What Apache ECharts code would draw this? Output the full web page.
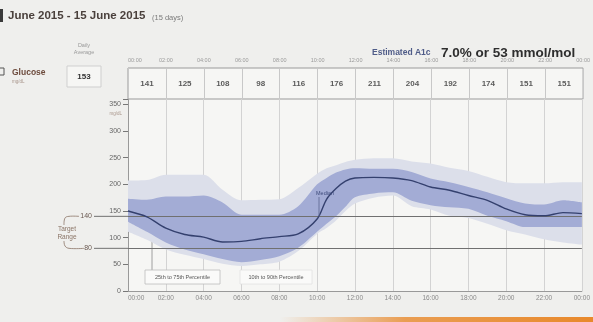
<!DOCTYPE html>
<html>
<head>
<meta charset="utf-8">
<script src="https://cdn.jsdelivr.net/npm/echarts@6/dist/echarts.min.js"></script>
<style>
html,body{margin:0;padding:0;background:#efefed;}
#c{width:593px;height:322px;}
</style>
</head>
<body>
<div id="c"></div>
<script>
// ---- data ----
const hours  = [0,1,2,3,4,5,6,7,8,9,10,10.5,11,11.5,12,13,14,15,16,17,18,19,20,21,22,23,24];
const p90    = [207,208,218,218,218,190,170,171,172,193,220,230,236,242,246,249,249,243,239,231,225,214,204,202,202,204,204];
const p75    = [173,171,177,177,179,166,143,143,143,159,200,212,222,228,230,229,229,223,211,204,195,185,174,164,162,170,166];
const median = [150,139,118,106,101,92,93,98,102,107,135,172,192,206,212,213,212,207,195,189,179,170,154,143,141,147,145];
const p25    = [130,111,91,78,69,60,54,58,65,81,111,126,140,158,176,183,185,169,161,157,154,141,131,120,120,120,120];
const p10    = [111,96,78,68,60,51,47,50,55,75,107,118,132,150,164,175,179,159,153,141,137,126,114,106,97,91,87];
const binCenters = [1,3,5,7,9,11,13,15,17,19,21,23];
const binAverages = [141,125,108,98,116,176,211,204,192,174,151,151];
const dailyAverage = 153;
const targetRange = [80,140];
const yTicks = [0,50,100,150,200,250,300,350];

const fmtHour = v => (v % 24 < 10 ? '0' : '') + (v % 24) + ':00';
// value first, hour second (so the library stacks the glucose value dimension)
const vh = arr => hours.map((h,i)=>[arr[i],h]);
const diffVH = (a,b) => hours.map((h,i)=>[a[i]-b[i],h]);

const chart = echarts.init(document.getElementById('c'), null, {renderer:'canvas'});
const FONT = 'Liberation Sans, Arial, sans-serif';
const bandBase = {type:'line',smooth:0.3,symbol:'none',lineStyle:{opacity:0,width:0},silent:true,encode:{x:1,y:0}};

const option = {
  backgroundColor:'#efefed',
  animation:false,
  grid:[
    {left:128,right:8,top:99,bottom:31,show:true,backgroundColor:'#f6f6f4',borderWidth:0},
    {left:128,right:8,top:68,height:31,show:true,backgroundColor:'#f6f6f4',borderColor:'#9a9a9a',borderWidth:1}
  ],
  xAxis:[
    {type:'value',gridIndex:0,min:0,max:24,interval:2,
     axisLine:{show:true,lineStyle:{color:'#999',width:1}},
     axisTick:{show:false},
     axisLabel:{fontSize:6.5,color:'#8a8a8a',margin:4,fontFamily:FONT,formatter:fmtHour,alignMinLabel:'left'},
     splitLine:{show:true,lineStyle:{color:'#d3d3d3',width:1}}},
    {type:'value',gridIndex:1,position:'top',min:0,max:24,interval:2,
     axisLine:{show:false},axisTick:{show:false},
     axisLabel:{fontSize:5.5,color:'#9a9a9a',margin:5,fontFamily:FONT,formatter:fmtHour,alignMinLabel:'left'},
     splitLine:{show:true,lineStyle:{color:'#c8c8c8',width:1}}}
  ],
  yAxis:[
    {type:'value',gridIndex:0,min:0,max:360,interval:50,
     axisLine:{show:true,lineStyle:{color:'#999',width:1}},
     axisTick:{show:true,inside:false,length:5,lineStyle:{color:'#777'}},
     axisLabel:{fontSize:7,color:'#666',margin:7,fontFamily:FONT,
       formatter:v=>yTicks.indexOf(v)>=0?String(v):''},
     splitLine:{show:false}},
    {type:'value',gridIndex:1,min:0,max:1,show:false}
  ],
  series:[
    Object.assign({},bandBase,{name:'p10base',data:vh(p10),stack:'outer'}),
    Object.assign({},bandBase,{name:'10th to 90th Percentile',data:diffVH(p90,p10),stack:'outer',
      areaStyle:{color:'#dcdfea',opacity:1}}),
    Object.assign({},bandBase,{name:'p25base',data:vh(p25),stack:'inner'}),
    Object.assign({},bandBase,{name:'25th to 75th Percentile',data:diffVH(p75,p25),stack:'inner',
      areaStyle:{color:'#a3acd5',opacity:1}}),
    {type:'line',name:'Median',data:hours.map((h,i)=>[h,median[i]]),smooth:0.3,symbol:'none',
     lineStyle:{color:'#34406e',width:1.4},z:5,
     markLine:{symbol:'none',silent:true,label:{show:false},
       lineStyle:{color:'#707070',width:1,type:'solid'},
       data:targetRange.map(v=>({yAxis:v}))}},
    {type:'scatter',xAxisIndex:1,yAxisIndex:1,symbolSize:1,itemStyle:{color:'transparent'},
     data:binCenters.map((c,i)=>[c,0.5,binAverages[i]]),
     label:{show:true,position:'inside',formatter:p=>String(p.value[2]),
       fontSize:8,fontWeight:'bold',color:'#333',fontFamily:FONT}}
  ]
};
chart.setOption(option);

const y140 = chart.convertToPixel({gridIndex:0},[0,targetRange[1]])[1];
const y80  = chart.convertToPixel({gridIndex:0},[0,targetRange[0]])[1];
const xMed = chart.convertToPixel({gridIndex:0},[10.1,0])[0];
const yMed = chart.convertToPixel({gridIndex:0},[10.1,140])[1];

chart.setOption({graphic:[
  {type:'rect',shape:{x:0,y:9,width:3,height:13},style:{fill:'#3a3a3a'}},
  {type:'text',left:8,top:10,style:{text:'June 2015 - 15 June 2015',font:'bold 11.5px '+FONT,fill:'#4a403c'}},
  {type:'text',left:152,top:14,style:{text:'(15 days)',font:'7.5px '+FONT,fill:'#7a7a7a'}},
  {type:'rect',shape:{x:-2,y:68,width:6,height:7},style:{fill:'none',stroke:'#555',lineWidth:1}},
  {type:'text',left:12,top:68,style:{text:'Glucose',font:'bold 8.5px '+FONT,fill:'#6d4b3d'}},
  {type:'text',left:12,top:79,style:{text:'mg/dL',font:'4.5px '+FONT,fill:'#a8958b'}},
  {type:'text',x:84,y:42,style:{text:'Daily\nAverage',font:'5.5px '+FONT,fill:'#999',align:'center',lineHeight:7}},
  {type:'rect',shape:{x:67,y:66,width:34,height:21},style:{fill:'#f6f6f4',stroke:'#cfcfcf',lineWidth:1}},
  {type:'text',x:84,y:76.5,style:{text:String(dailyAverage),font:'bold 8px '+FONT,fill:'#333',align:'center',verticalAlign:'middle'}},
  {type:'text',x:372,y:57,style:{text:'Estimated A1c',font:'bold 8.5px '+FONT,fill:'#4f5c88',verticalAlign:'bottom'}},
  {type:'text',x:441,y:60,style:{text:'7.0% or 53 mmol/mol',font:'bold 13.5px '+FONT,fill:'#2e2e2e',verticalAlign:'bottom'}},
  {type:'text',x:122,y:114,style:{text:'mg/dL',font:'4.5px '+FONT,fill:'#a8958b',align:'right',verticalAlign:'middle'}},
  {type:'line',shape:{x1:94,y1:y140,x2:128,y2:y140},style:{stroke:'#707070',lineWidth:1}},
  {type:'line',shape:{x1:94,y1:y80,x2:128,y2:y80},style:{stroke:'#707070',lineWidth:1}},
  {type:'text',x:92,y:y140,style:{text:String(targetRange[1]),font:'7px '+FONT,fill:'#6b5a52',align:'right',verticalAlign:'middle'}},
  {type:'text',x:92,y:y80,style:{text:String(targetRange[0]),font:'7px '+FONT,fill:'#6b5a52',align:'right',verticalAlign:'middle'}},
  {type:'text',x:67,y:233,style:{text:'Target\nRange',font:'6.5px '+FONT,fill:'#8a7466',align:'center',verticalAlign:'middle',lineHeight:8}},
  {type:'polyline',shape:{points:[[64,225],[65,218],[69,y140],[79,y140]],smooth:0.4},style:{stroke:'#8a7466',fill:'none',lineWidth:0.8}},
  {type:'polyline',shape:{points:[[64,241],[65,246],[69,y80],[84,y80]],smooth:0.4},style:{stroke:'#8a7466',fill:'none',lineWidth:0.8}},
  {type:'line',shape:{x1:152,y1:270,x2:152,y2:220},style:{stroke:'#8a8a8a',lineWidth:0.8}},
  {type:'rect',shape:{x:145,y:270,width:75,height:14},style:{fill:'#fafaf9',stroke:'#bdbdbd',lineWidth:0.8}},
  {type:'text',x:182.5,y:277,style:{text:'25th to 75th Percentile',font:'5.5px '+FONT,fill:'#555',align:'center',verticalAlign:'middle'}},
  {type:'rect',shape:{x:240,y:270,width:72,height:14},style:{fill:'#fafaf9',stroke:'#e2e2e2',lineWidth:0.8}},
  {type:'text',x:276,y:277,style:{text:'10th to 90th Percentile',font:'5.5px '+FONT,fill:'#555',align:'center',verticalAlign:'middle'}},
  {type:'line',shape:{x1:xMed,y1:197,x2:xMed,y2:yMed},style:{stroke:'#5a6590',lineWidth:0.8},z:10},
  {type:'text',x:xMed-3,y:193,style:{text:'Median',font:'5.5px '+FONT,fill:'#3d4a7a',verticalAlign:'middle'},z:10},
  {type:'rect',shape:{x:280,y:317,width:313,height:5},style:{fill:new echarts.graphic.LinearGradient(0,0,1,0,[{offset:0,color:'rgba(232,137,44,0)'},{offset:0.4,color:'rgba(232,137,44,0.8)'},{offset:1,color:'#e8892c'}])}}
]});
</script>
</body>
</html>
